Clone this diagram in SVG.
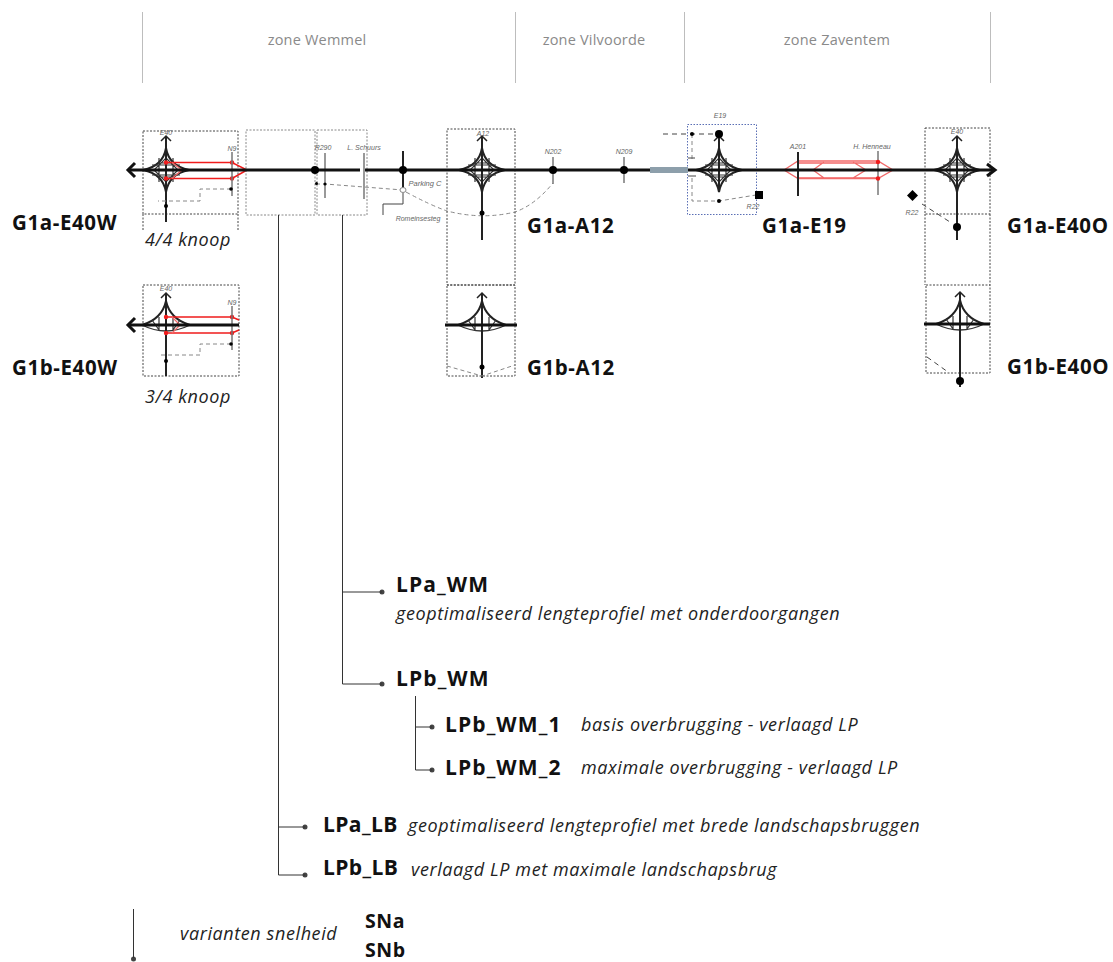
<svg xmlns="http://www.w3.org/2000/svg" width="1113" height="962" viewBox="0 0 1113 962">
<style>
text{font-family:"Open Sans","Liberation Sans",sans-serif;fill:#111}
.zone{font-size:14.5px;fill:#8a8a8a;text-anchor:middle;letter-spacing:.2px}
.zl{stroke:#bdbdbd;stroke-width:1;fill:none}
.t{font-size:20.5px;font-weight:700;letter-spacing:.6px}
.lp{font-size:21px;font-weight:700;letter-spacing:1.1px}
.lb{letter-spacing:.4px}
.sn{font-size:19.5px;letter-spacing:.6px}
.d{font-size:18px;font-style:italic;fill:#222;letter-spacing:.6px}
.s{font-family:"Liberation Sans",Arial,sans-serif;font-size:7px;font-style:italic;fill:#666;text-anchor:middle}
.box{fill:none;stroke:#444;stroke-width:1;stroke-dasharray:2 1.5}
.boxg{fill:none;stroke:#888;stroke-width:1;stroke-dasharray:2 1.5}
.main{stroke:#111;stroke-width:3;fill:none}
.v{stroke:#222;stroke-width:2;fill:none}
.vg{stroke:#777;stroke-width:1.5;fill:none}
.red{stroke:#f26a6a;stroke-width:1.3;fill:none}
.rd2{stroke:#f01c1c;stroke-width:1.6;fill:none}
.dash{stroke:#888;stroke-width:1;stroke-dasharray:4 3;fill:none}
.dashk{stroke:#444;stroke-width:1;stroke-dasharray:5 4;fill:none}
.tree{stroke:#333;stroke-width:1;fill:none}
.dot{fill:#444}
.n{fill:#000}
</style>
<defs>
<g id="star">
<path d="M0,-22Q3,-4 23,0Q3,4 0,22Q-3,4 -23,0Q-3,-4 0,-22Z" fill="none" stroke="#222" stroke-width="2"/>
<path d="M0,-12L12,0L0,12L-12,0Z M-7,-7H7V7H-7Z M-7,-12V12M7,-12V12M-14,-5H14M-14,5H14" fill="none" stroke="#333" stroke-width="1.2"/>
<path d="M0,-34V22" stroke="#222" stroke-width="2" fill="none"/>
<path d="M-5,-29L0,-34L5,-29" stroke="#222" stroke-width="1.5" fill="none"/>
</g>
<g id="half">
<path d="M-24,0Q-4,-6 0,-24Q4,-6 24,0" fill="none" stroke="#222" stroke-width="2"/>
<path d="M-24,0Q0,12 24,0" fill="none" stroke="#333" stroke-width="1.3"/>
<path d="M-7,-8V5M7,-8V5M-14,-5L-7,5M14,-5L7,5" fill="none" stroke="#333" stroke-width="1.2"/>
<path d="M-5,-27L0,-32L5,-27" stroke="#222" stroke-width="1.5" fill="none"/>
</g>
</defs>

<g id="zones">
<path class="zl" d="M142.500,12V83M515.500,12V83M684.500,12V83M990.500,12V83"/>
<text class="zone" x="317" y="45">zone Wemmel</text>
<text class="zone" x="594" y="45">zone Vilvoorde</text>
<text class="zone" x="837" y="45">zone Zaventem</text>
</g>

<g id="node-G1a-E40W">
<rect class="box" x="143" y="131" width="95" height="83"/>
<path class="box" d="M143,214V230M238,214V230"/>
<text class="s" x="166" y="135">E40</text>
<use href="#star" x="166" y="170"/>
<path class="v" d="M166,192V222"/>
<path class="rd2" d="M166,162.500H232L247,170L232,178.500H166"/>
<path class="red" d="M172,162.500L182,170L172,178.500"/>
<circle cx="166" cy="162.500" r="2.200" fill="#f01c1c"/><circle cx="166" cy="178.500" r="2.200" fill="#f01c1c"/>
<circle cx="232" cy="162.500" r="2.200" fill="#f01c1c"/><circle cx="232" cy="178.500" r="2.200" fill="#f01c1c"/>
<path class="vg" d="M232,152V196"/>
<text class="s" x="232" y="151">N9</text>
<path class="dash" d="M231,189H200V201H158"/>
<circle class="n" cx="231" cy="189" r="1.800"/><circle class="n" cx="166" cy="206" r="2"/>
<text class="t" x="12" y="230">G1a-E40W</text>
<text class="d" x="145" y="246">4/4 knoop</text>
</g>

<g id="node-wemmel-boxes">
<rect class="boxg" x="246" y="130" width="69" height="85"/>
<rect class="boxg" x="317" y="130" width="50" height="85"/>
<path class="vg" d="M325,153V198"/>
<path class="vg" d="M364,153V199"/>
<text class="s" x="323" y="150">R290</text>
<text class="s" x="364" y="150">L. Schuurs</text>
<path class="dash" d="M316,184L325,184L403,190"/>
<circle class="n" cx="316.500" cy="183.500" r="1.500"/><circle class="n" cx="325" cy="184" r="1.500"/>
</g>

<g id="node-parking">
<path class="v" d="M403,151V188" stroke-width="1.500"/>
<ellipse cx="403" cy="190" rx="3" ry="2.500" fill="#fff" stroke="#888"/>
<path d="M383,215V204H403V193" fill="none" stroke="#444"/>
<text class="s" x="425" y="186" style="font-size:7.500px">Parking C</text>
<text class="s" x="418" y="221">Romeinsesteg</text>
<path class="dash" d="M406,192Q430,205 447,211Q482,220 515,212Q535,205 553,183"/>
</g>

<g id="node-G1a-A12">
<rect class="box" x="447" y="129" width="68" height="156"/>
<text class="s" x="483" y="136">A12</text>
<use href="#star" x="482" y="170"/>
<path class="v" d="M482,192V240"/>
<circle class="n" cx="482" cy="213" r="2.500"/>
<text class="t" x="527" y="233">G1a-A12</text>
</g>

<g id="node-N202">
<path class="vg" d="M553,157V184"/>
<text class="s" x="553" y="154">N202</text>
</g>
<g id="node-N209">
<path class="vg" d="M624,157V183"/>
<text class="s" x="624" y="154">N209</text>
</g>

<g id="node-G1a-E19">
<rect x="687.500" y="124.500" width="69" height="90" fill="none" stroke="#5a6fb5" stroke-dasharray="1.500 1.500"/>
<text class="s" x="720" y="118">E19</text>
<use href="#star" x="719" y="170"/>
<path class="v" d="M719,134V192"/>
<circle class="n" cx="719" cy="134" r="4"/>
<path class="dashk" d="M663,134H716"/>
<path class="dash" d="M692,134V162M692,178V201H719L756,195"/>
<path d="M688,158H695M688,176H696" stroke="#444" fill="none"/>
<circle class="n" cx="692" cy="134" r="2"/><circle class="n" cx="719" cy="201" r="2"/>
<rect class="n" x="755" y="191" width="8" height="8"/>
<text class="s" x="753" y="209">R22</text>
<text class="t" x="762" y="233">G1a-E19</text>
</g>

<g id="node-A201-Henneau">
<path class="red" d="M784,170L798,161H878L893,170L878,178.500H798Z"/>
<path class="red" d="M813,170L824,162M853,162L866,170L853,178M824,178L813,170M798,163H878M798,178H878"/>
<path class="v" d="M798,152V196" stroke-width="1.500"/>
<path class="vg" d="M878,151V195"/>
<circle cx="878" cy="162" r="2.200" fill="#f01c1c"/><circle cx="878" cy="178.500" r="2.200" fill="#f01c1c"/>
<text class="s" x="798" y="149">A201</text>
<text class="s" x="872" y="149">H. Henneau</text>
</g>

<g id="node-G1a-E40O">
<rect class="box" x="925" y="128" width="65" height="86"/>
<path class="box" d="M925,214V285M990,214V285"/>
<text class="s" x="957" y="134">E40</text>
<use href="#star" x="957" y="170"/>
<path class="v" d="M957,192V240"/>
<circle class="n" cx="957" cy="227" r="4"/>
<path class="n" d="M912.500,190L918,195.500L912.500,201L907,195.500Z"/>
<path class="dashk" d="M922,204L950,222"/>
<text class="s" x="912" y="215">R22</text>
<text class="t" x="1007" y="233">G1a-E40O</text>
</g>

<g id="node-G1b-E40W">
<rect class="box" x="143" y="285" width="96" height="91" stroke="#777"/>
<text class="s" x="166" y="291">E40</text>
<use href="#half" x="166" y="325"/>
<path class="v" d="M166,293V376"/>
<path class="rd2" d="M166,317H232L239,320M166,333H232L239,330"/>
<path class="red" d="M172,317L180,325L172,333"/>
<circle cx="166" cy="317" r="2.200" fill="#f01c1c"/><circle cx="166" cy="333" r="2.200" fill="#f01c1c"/>
<circle cx="232" cy="317" r="2.200" fill="#f01c1c"/><circle cx="232" cy="333" r="2.200" fill="#f01c1c"/>
<path class="vg" d="M232,306V350"/>
<text class="s" x="232" y="305">N9</text>
<path class="dash" d="M231,344H200V355H158"/>
<circle class="n" cx="231" cy="344" r="1.800"/><circle class="n" cx="166" cy="361" r="2"/>
<text class="t" x="12" y="375">G1b-E40W</text>
<text class="d" x="145" y="403">3/4 knoop</text>
</g>

<g id="node-G1b-A12">
<rect class="box" x="447" y="285" width="68" height="91" stroke="#777"/>
<use href="#half" x="482" y="325"/>
<path class="v" d="M482,293V378"/>
<circle class="n" cx="482" cy="367" r="2.500"/>
<path class="dash" d="M447,366L482,376L515,365"/>
<text class="t" x="527" y="375">G1b-A12</text>
</g>

<g id="node-G1b-E40O">
<rect class="box" x="926" y="285" width="64" height="88" stroke="#777"/>
<use href="#half" x="960" y="324"/>
<path class="v" d="M960,293V387"/>
<circle class="n" cx="960" cy="381" r="4"/>
<path class="dashk" d="M927,357L948,372"/>
<text class="t" x="1007" y="374">G1b-E40O</text>
</g>

<g id="node-LPa_WM">
<circle class="dot" cx="382" cy="592" r="2.500"/>
<text class="lp" x="396" y="592">LPa_WM</text>
<text class="d" x="396" y="620">geoptimaliseerd lengteprofiel met onderdoorgangen</text>
</g>
<g id="node-LPb_WM">
<circle class="dot" cx="382" cy="684" r="2.500"/>
<text class="lp" x="396" y="686">LPb_WM</text>
</g>
<g id="node-LPb_WM_1">
<circle class="dot" cx="432" cy="727" r="2.500"/>
<text class="lp" x="445" y="732">LPb_WM_1</text>
<text class="d" x="581" y="731">basis overbrugging - verlaagd LP</text>
</g>
<g id="node-LPb_WM_2">
<circle class="dot" cx="432" cy="770" r="2.500"/>
<text class="lp" x="445" y="775">LPb_WM_2</text>
<text class="d" x="581" y="774">maximale overbrugging - verlaagd LP</text>
</g>
<g id="node-LPa_LB">
<circle class="dot" cx="305" cy="827" r="2.500"/>
<text class="lp lb" x="323" y="832">LPa_LB</text>
<text class="d" x="408" y="832">geoptimaliseerd lengteprofiel met brede landschapsbruggen</text>
</g>
<g id="node-LPb_LB">
<circle class="dot" cx="305" cy="875" r="2.500"/>
<text class="lp lb" x="323" y="875">LPb_LB</text>
<text class="d" x="411" y="876">verlaagd LP met maximale landschapsbrug</text>
</g>
<g id="legend">
<circle class="dot" cx="133.500" cy="959" r="2.500"/>
<text class="d" x="180" y="940">varianten snelheid</text>
<text class="lp sn" x="365" y="928">SNa</text>
<text class="lp sn" x="365" y="957">SNb</text>
</g>

<g id="connectors">
<path class="main" d="M130,170H360M365,170H650M688,170H993"/>
<path d="M650,170H688" stroke="#8d9fab" stroke-width="6"/>
<path class="main" d="M135,163L128,170L135,177"/>
<path class="main" d="M987,164L995,170L987,176" stroke-width="2"/>
<path class="tree" d="M278.500,215V875H305M278.500,827H305M342.500,215V684H382M342.500,592H382M415.500,696V770H432M415.500,727H432"/>
<path class="tree" d="M133.500,909V958"/>
<path class="main" d="M135,318L128,325L135,332"/>
<path class="main" d="M128,325H239M445,325H517M924,324H990"/>
<circle class="n" cx="315" cy="170" r="4"/>
<circle class="n" cx="403" cy="170" r="4"/>
<circle class="n" cx="553" cy="170" r="4"/>
<circle class="n" cx="624" cy="170" r="4"/>
</g>
</svg>
